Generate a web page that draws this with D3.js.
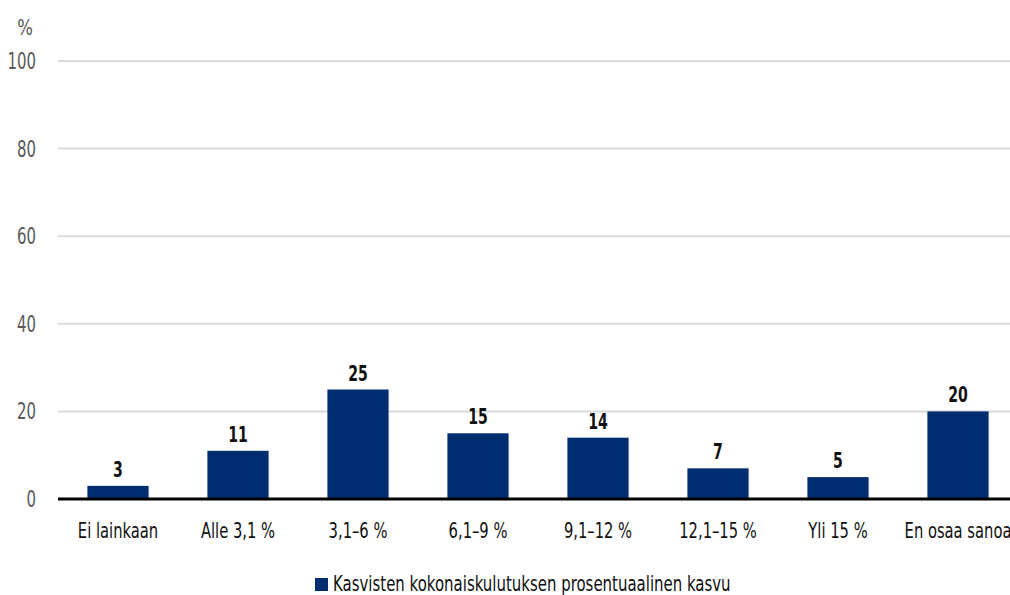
<!DOCTYPE html>
<html>
<head>
<meta charset="utf-8">
<script src="https://cdn.jsdelivr.net/npm/d3@7"></script>
<style>
  html, body { margin: 0; padding: 0; background: #fff; }
  svg text { font-family: "DejaVu Sans", "Liberation Sans", sans-serif; }
</style>
</head>
<body>
<svg id="chart" width="1010" height="595"></svg>
<script>
// Share of respondents by expected growth of total vegetable consumption
const categories = ["Ei lainkaan", "Alle 3,1 %", "3,1–6 %", "6,1–9 %", "9,1–12 %", "12,1–15 %", "Yli 15 %", "En osaa sanoa"];
const values = [3, 11, 25, 15, 14, 7, 5, 20];
const yTicks = [0, 20, 40, 60, 80, 100];
const seriesName = "Kasvisten kokonaiskulutuksen prosentuaalinen kasvu";
const unitLabel = "%";

const svg = d3.select("#chart");
const barColor = "#002d6f";

const x = d3.scaleBand().domain(categories).range([58, 1018]).paddingInner(0.49).paddingOuter(0.245);
const y = d3.scaleLinear().domain([0, 100]).range([499, 61]);

// narrow the glyphs horizontally around each text's own anchor point
function condense(sel, k) {
  sel.each(function () {
    const t = d3.select(this);
    const tx = +t.attr("x") || 0, ty = +t.attr("y") || 0;
    t.attr("x", 0).attr("y", 0)
      .attr("transform", `translate(${tx},${ty}) scale(${k},1)`);
  });
}

// horizontal grid lines
svg.append("g")
  .selectAll("line")
  .data(yTicks.filter(d => d > 0))
  .join("line")
  .attr("x1", 58).attr("x2", 1010)
  .attr("y1", d => y(d)).attr("y2", d => y(d))
  .attr("stroke", "#d9d9d9").attr("stroke-width", 2);

// y axis labels
const yAxis = d3.axisLeft(y).tickValues(yTicks).tickSize(0).tickPadding(0);
const yg = svg.append("g").attr("transform", "translate(36,0)").call(yAxis);
yg.select(".domain").remove();
yg.selectAll("text")
  .attr("font-size", 23).attr("fill", "#595959")
  .attr("dy", null).attr("y", 7.5)
  .style("font-family", null)
  .call(condense, 0.65);

svg.append("text")
  .attr("x", 25).attr("y", 35)
  .attr("text-anchor", "middle")
  .attr("font-size", 22).attr("fill", "#595959")
  .text(unitLabel)
  .call(condense, 0.75);

// bars
svg.append("g")
  .selectAll("rect")
  .data(values)
  .join("rect")
  .attr("x", (d, i) => x(categories[i]))
  .attr("width", x.bandwidth())
  .attr("y", d => y(d))
  .attr("height", d => y(0) - y(d))
  .attr("fill", barColor);

// value labels
svg.append("g")
  .selectAll("text")
  .data(values)
  .join("text")
  .attr("x", (d, i) => x(categories[i]) + x.bandwidth() / 2)
  .attr("y", d => y(d) - 9)
  .attr("text-anchor", "middle")
  .attr("font-size", 22).attr("font-weight", "bold").attr("fill", "#111")
  .text(d => d)
  .call(condense, 0.64);

// category labels
const xAxis = d3.axisBottom(x).tickSize(0).tickPadding(0);
const xg = svg.append("g").attr("transform", `translate(0,${y(0)})`).call(xAxis);
xg.select(".domain").remove();
xg.selectAll("text")
  .attr("font-size", 22).attr("fill", "#111")
  .attr("dy", null).attr("y", 39)
  .style("font-family", null)
  .call(condense, 0.67);

// baseline
svg.append("line")
  .attr("x1", 58).attr("x2", 1010)
  .attr("y1", y(0)).attr("y2", y(0))
  .attr("stroke", "#000").attr("stroke-width", 3);

// legend
const legend = svg.append("g").attr("transform", "translate(315,578)");
legend.append("rect").attr("width", 13).attr("height", 13).attr("fill", barColor);
legend.append("text")
  .attr("x", 18).attr("y", 12.5)
  .attr("font-size", 22).attr("fill", "#111")
  .text(seriesName)
  .call(condense, 0.68);
</script>
</body>
</html>
